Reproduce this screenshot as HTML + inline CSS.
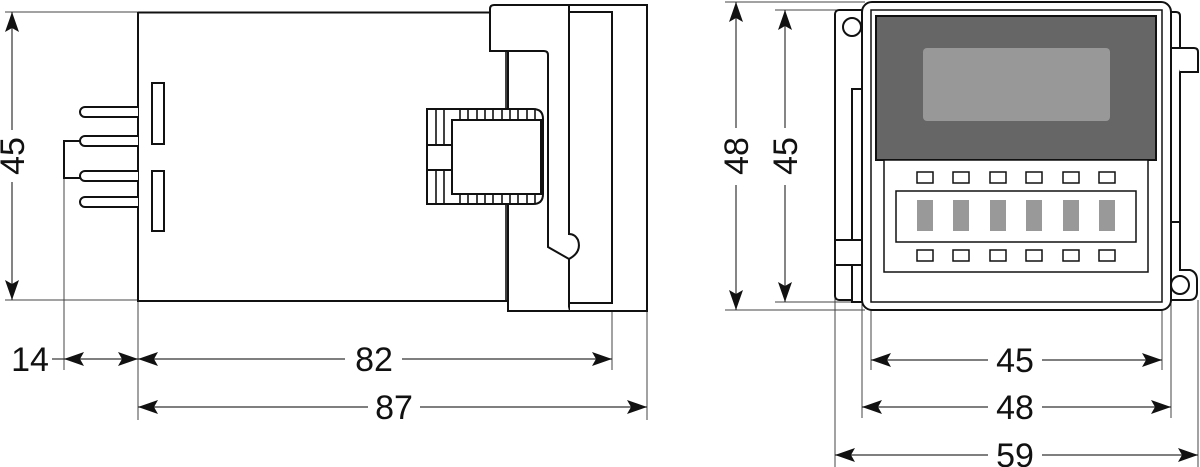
<!DOCTYPE html>
<html><head><meta charset="utf-8"><style>
html,body{margin:0;padding:0;background:#fff;}
svg{display:block}
text{font-family:"Liberation Sans",sans-serif;font-size:34px;fill:#111}
</style></head><body>
<svg width="1200" height="467" viewBox="0 0 1200 467" xmlns="http://www.w3.org/2000/svg">
<defs>
<marker id="a" viewBox="0 0 20 14" refX="20" refY="7" markerWidth="20" markerHeight="14" markerUnits="userSpaceOnUse" orient="auto-start-reverse"><path d="M0,0 L20,7 L0,14 L4,7 Z" fill="#111"/></marker>
</defs>
<g stroke="#444" stroke-width="1" fill="none">
<!-- left extension lines -->
<line x1="5" y1="12" x2="138" y2="12"/>
<line x1="5" y1="300" x2="138" y2="300"/>
<line x1="64" y1="178" x2="64" y2="370"/>
<line x1="138" y1="300" x2="138" y2="420"/>
<line x1="612" y1="303" x2="612" y2="370"/>
<line x1="647" y1="311" x2="647" y2="420"/>
<!-- right extension lines -->
<line x1="725" y1="2" x2="865" y2="2"/>
<line x1="725" y1="310" x2="865" y2="310"/>
<line x1="775" y1="10" x2="870" y2="10"/>
<line x1="775" y1="302" x2="870" y2="302"/>
<line x1="835" y1="290" x2="835" y2="467"/>
<line x1="862" y1="300" x2="862" y2="418"/>
<line x1="871" y1="300" x2="871" y2="370"/>
<line x1="1162" y1="300" x2="1162" y2="370"/>
<line x1="1171" y1="300" x2="1171" y2="418"/>
<line x1="1198" y1="300" x2="1198" y2="467"/>
</g>
<!-- dimension lines -->
<g stroke="#333" stroke-width="1.2" fill="none">
<line x1="12" y1="12" x2="12" y2="130" marker-start="url(#a)"/>
<line x1="12" y1="182" x2="12" y2="300" marker-end="url(#a)"/>
<line x1="64" y1="359" x2="138" y2="359" marker-start="url(#a)" marker-end="url(#a)"/>
<line x1="52" y1="359" x2="64" y2="359"/>
<line x1="138" y1="359" x2="345" y2="359" marker-start="url(#a)"/>
<line x1="402" y1="359" x2="612" y2="359" marker-end="url(#a)"/>
<line x1="138" y1="407" x2="368" y2="407" marker-start="url(#a)"/>
<line x1="420" y1="407" x2="647" y2="407" marker-end="url(#a)"/>
<line x1="736" y1="2" x2="736" y2="128" marker-start="url(#a)"/>
<line x1="736" y1="185" x2="736" y2="310" marker-end="url(#a)"/>
<line x1="785" y1="10" x2="785" y2="128" marker-start="url(#a)"/>
<line x1="785" y1="185" x2="785" y2="302" marker-end="url(#a)"/>
<line x1="871" y1="360" x2="988" y2="360" marker-start="url(#a)"/>
<line x1="1042" y1="360" x2="1162" y2="360" marker-end="url(#a)"/>
<line x1="862" y1="407" x2="988" y2="407" marker-start="url(#a)"/>
<line x1="1042" y1="407" x2="1171" y2="407" marker-end="url(#a)"/>
<line x1="835" y1="455" x2="988" y2="455" marker-start="url(#a)"/>
<line x1="1042" y1="455" x2="1198" y2="455" marker-end="url(#a)"/>
</g>
<!-- labels -->
<text x="30" y="371" text-anchor="middle" transform="scale(1,1)">14</text>
<text x="374" y="371" text-anchor="middle">82</text>
<text x="394" y="419" text-anchor="middle">87</text>
<text x="1015" y="372" text-anchor="middle">45</text>
<text x="1015" y="419" text-anchor="middle">48</text>
<text x="1015" y="467" text-anchor="middle">59</text>
<text transform="translate(24,156) rotate(-90)" text-anchor="middle">45</text>
<text transform="translate(748,156) rotate(-90)" text-anchor="middle">48</text>
<text transform="translate(797,156) rotate(-90)" text-anchor="middle">45</text>

<!-- LEFT VIEW -->
<g stroke="#111" stroke-width="2" fill="#fff">
<path d="M138,12.5 L490,12.5 M138,12 L138,301 L508,301"/>
<rect x="569" y="5" width="78" height="306"/>
<rect x="569" y="12" width="43" height="291"/>
<path d="M508,51 L508,311 L569,311"/>
<path d="M569,5 L494,5 Q490,5 490,9 L490,51 L544,51 Q548,51 548,55 L548,247 L569,259 Q582,252 578,240 Q575,234 569,234 Z"/>
<!-- pins -->
<path d="M138,107 L85,107 A5,5 0 0 0 85,117 L138,117"/>
<path d="M138,136 L85,136 A5,5 0 0 0 85,146 L138,146"/>
<path d="M138,171 L85,171 A5,5 0 0 0 85,181 L138,181"/>
<path d="M138,197 L85,197 A5,5 0 0 0 85,207 L138,207"/>
<path d="M80,141 L64,141 L64,178 L80,178" fill="none"/>
<rect x="152" y="83" width="12" height="61"/>
<rect x="152" y="171" width="12" height="60"/>
<!-- connector -->
<path d="M427,109 L533,109 Q543,109 543,119 L543,194 Q543,204 533,204 L427,204 Z"/>
<rect x="452" y="120" width="89" height="74"/>
<line x1="427" y1="145" x2="452" y2="145"/>
<line x1="427" y1="170" x2="452" y2="170"/>
</g>
<g stroke="#111" stroke-width="1.6">
<line x1="436" y1="109" x2="436" y2="145"/><line x1="444" y1="109" x2="444" y2="145"/>
<line x1="436" y1="170" x2="436" y2="204"/><line x1="444" y1="170" x2="444" y2="204"/>
<line x1="460" y1="109" x2="460" y2="120"/><line x1="468" y1="109" x2="468" y2="120"/><line x1="477" y1="109" x2="477" y2="120"/><line x1="485" y1="109" x2="485" y2="120"/><line x1="493" y1="109" x2="493" y2="120"/><line x1="502" y1="109" x2="502" y2="120"/><line x1="510" y1="109" x2="510" y2="120"/><line x1="518" y1="109" x2="518" y2="120"/><line x1="527" y1="109" x2="527" y2="120"/><line x1="535" y1="109" x2="535" y2="120"/>
<line x1="460" y1="194" x2="460" y2="204"/><line x1="468" y1="194" x2="468" y2="204"/><line x1="477" y1="194" x2="477" y2="204"/><line x1="485" y1="194" x2="485" y2="204"/><line x1="493" y1="194" x2="493" y2="204"/><line x1="502" y1="194" x2="502" y2="204"/><line x1="510" y1="194" x2="510" y2="204"/><line x1="518" y1="194" x2="518" y2="204"/><line x1="527" y1="194" x2="527" y2="204"/><line x1="535" y1="194" x2="535" y2="204"/>
<line x1="506" y1="51" x2="506" y2="109"/><line x1="506" y1="204" x2="506" y2="301"/>
</g>

<!-- RIGHT VIEW -->
<g stroke="#111" stroke-width="2" fill="#fff">
<rect x="835" y="10" width="30" height="290" rx="4"/>
<rect x="852" y="89" width="12" height="213"/>
<rect x="835" y="240" width="27" height="25"/>
<circle cx="852" cy="27" r="9"/>
<path d="M1168,12 L1176,12 Q1180,12 1180,16 L1180,270 L1190,270 Q1197,272 1197,280 L1197,292 Q1197,300 1189,300 L1168,300 Z"/>
<path d="M1171,48 L1194,48 Q1198,48 1198,52 L1198,72 L1180,72 M1171,222 L1180,222"/>
<circle cx="1180" cy="285" r="9"/>
<rect x="862" y="2" width="309" height="308" rx="10"/>
<rect x="871" y="10" width="291" height="292" stroke-width="1.5"/>
<rect x="876" y="16" width="280" height="144" fill="#666"/>
<rect x="884" y="160" width="264" height="112" stroke-width="1.5"/>
<rect x="896" y="191" width="240" height="51" stroke-width="1.5"/>
</g>
<rect x="923" y="48" width="187" height="73" rx="4" fill="#989898"/>
<g fill="#fff" stroke="#111" stroke-width="1.5">
<rect x="917" y="172" width="16" height="11"/><rect x="953" y="172" width="16" height="11"/><rect x="990" y="172" width="16" height="11"/><rect x="1026" y="172" width="16" height="11"/><rect x="1063" y="172" width="16" height="11"/><rect x="1099" y="172" width="16" height="11"/>
<rect x="917" y="250" width="16" height="11"/><rect x="953" y="250" width="16" height="11"/><rect x="990" y="250" width="16" height="11"/><rect x="1026" y="250" width="16" height="11"/><rect x="1063" y="250" width="16" height="11"/><rect x="1099" y="250" width="16" height="11"/>
</g>
<g fill="#999">
<rect x="917" y="200" width="16" height="31"/><rect x="953" y="200" width="16" height="31"/><rect x="990" y="200" width="16" height="31"/><rect x="1026" y="200" width="16" height="31"/><rect x="1063" y="200" width="16" height="31"/><rect x="1099" y="200" width="16" height="31"/>
</g>
</svg>
</body></html>
